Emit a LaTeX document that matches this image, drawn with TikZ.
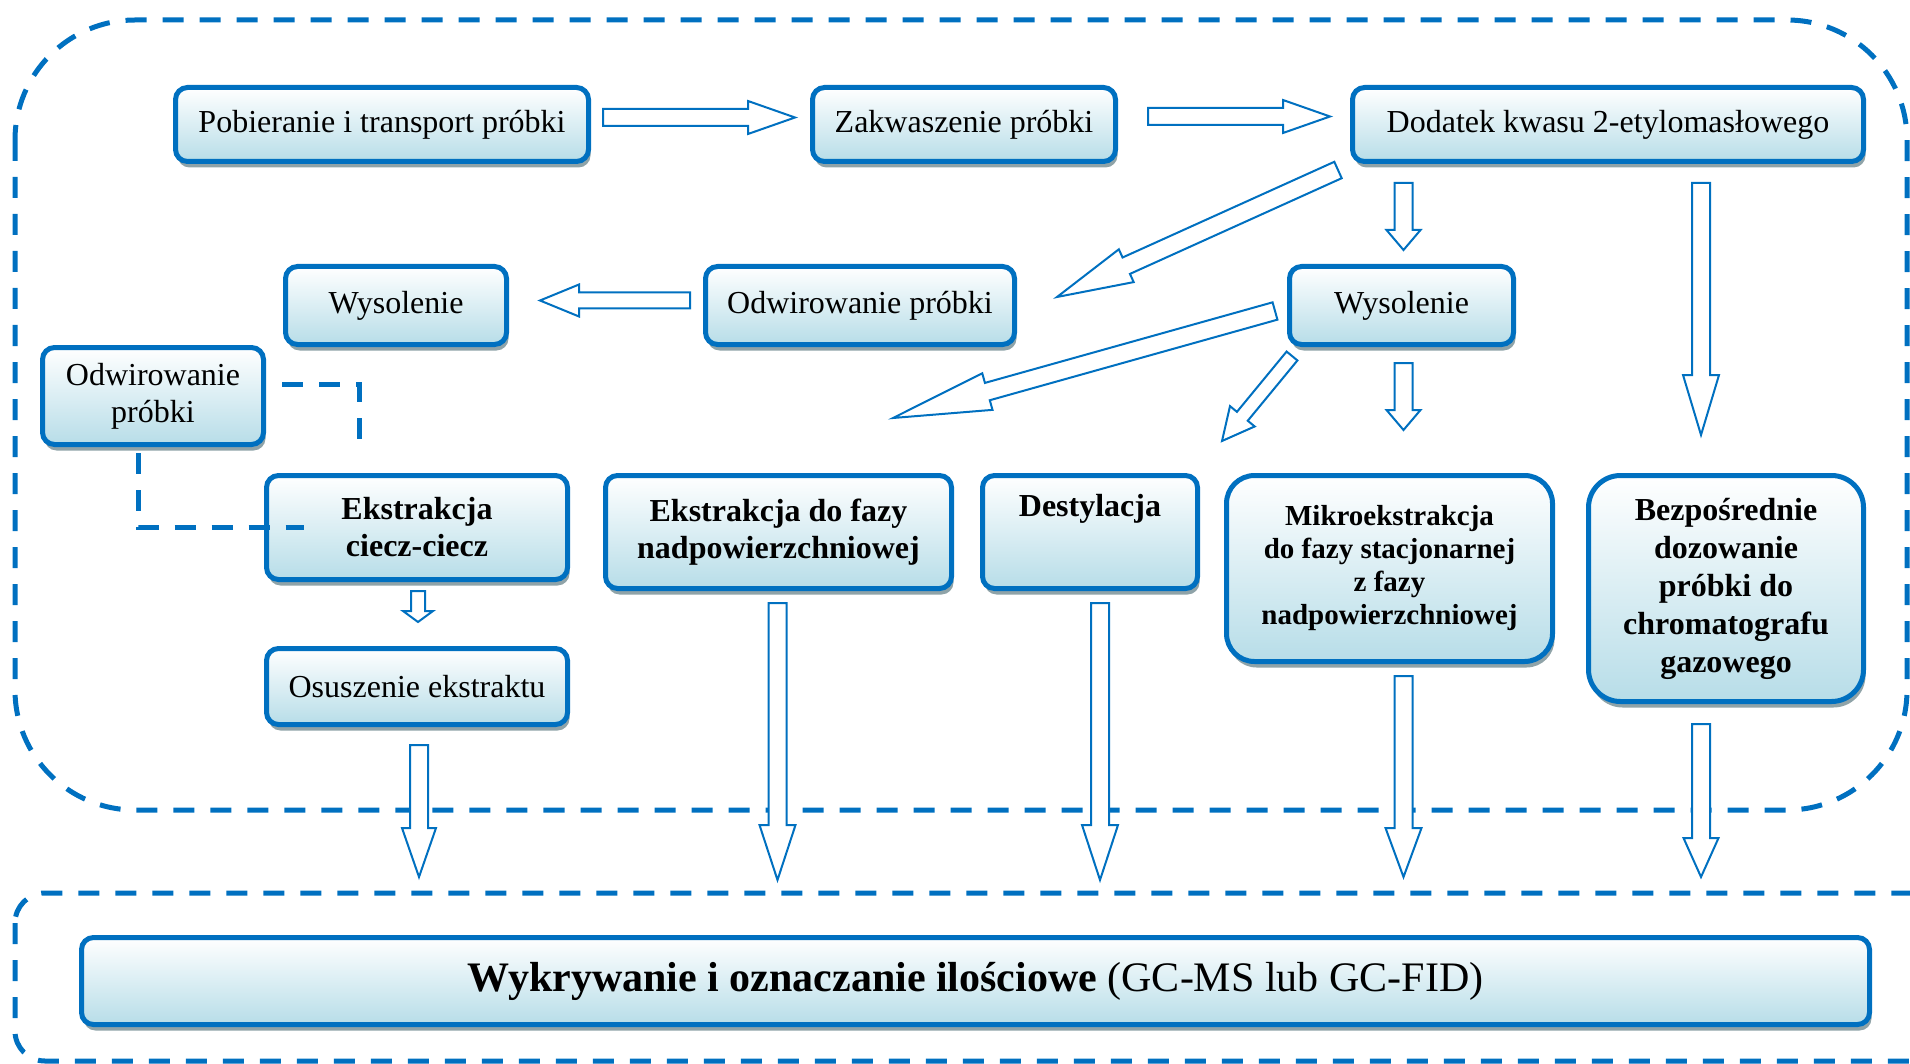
\documentclass[tikz,border=0pt]{standalone}
\usepackage{fontspec}
\setmainfont{Liberation Serif}
\usetikzlibrary{calc,shadows}
\definecolor{frameblue}{HTML}{0070C0}
\definecolor{boxblue}{HTML}{B7DDE8}
\definecolor{shadowgray}{HTML}{8FA3A8}

\tikzset{
  box/.style={draw=frameblue, line width=5pt, rounded corners=12pt, top color=white, bottom color=boxblue,
    drop shadow={shadow xshift=2pt, shadow yshift=-6pt, fill=shadowgray, opacity=1},
    align=center, inner sep=0pt, font=\fontsize{32}{37}\selectfont},
  boldbox/.style={box, font=\fontsize{32}{37}\selectfont\bfseries},
  barrow/.style={draw=frameblue, line width=2pt, fill=white, line join=miter},
  dashline/.style={draw=frameblue, line width=5pt, dash pattern=on 21pt off 16pt},
}

% tail, tip, half shaft, half head, head length
\newcommand{\blockarrow}[5]{%
  \draw[barrow] ($(#1)!#3!90:(#2)$) -- ($(#2)!#5!(#1)!#3!90:(#2)$) -- ($(#2)!#5!(#1)!#4!90:(#2)$)
    -- (#2) -- ($(#2)!#5!(#1)!#4!-90:(#2)$) -- ($(#2)!#5!(#1)!#3!-90:(#2)$) -- ($(#1)!#3!-90:(#2)$) -- cycle;}

\begin{document}
\begin{tikzpicture}[x=1pt, y=-1pt]
  \clip (0,0) rectangle (1910,1064);
  \draw[dashline, rounded corners=120pt] (15,20) rectangle (1907,810);
  \draw[dashline, rounded corners=30pt] (15,893) rectangle (1940,1061);

  \node[box, minimum width=413pt, minimum height=74pt] (pob) at (382,124.5) {Pobieranie i transport próbki};
  \node[box, minimum width=303pt, minimum height=74pt] (zak) at (964,124.5) {Zakwaszenie próbki};
  \node[box, minimum width=511pt, minimum height=74pt] (dod) at (1608,124.5) {Dodatek kwasu 2-etylomasłowego};

  \node[box, minimum width=221pt, minimum height=78pt] (wysL) at (396,305.5) {Wysolenie};
  \node[box, minimum width=309pt, minimum height=78pt] (odwM) at (860,305.5) {Odwirowanie próbki};
  \node[box, minimum width=224pt, minimum height=78pt] (wysR) at (1401.5,305.5) {Wysolenie};
  \node[box, minimum width=221pt, minimum height=97pt] (odwL) at (153,396) {Odwirowanie\\próbki};

  \node[boldbox, minimum width=301pt, minimum height=104pt] (ekc) at (417,527.5) {Ekstrakcja\\ciecz-ciecz};
  \node[boldbox, minimum width=346pt, minimum height=113pt] (ekf) at (778.5,532) {Ekstrakcja do fazy\\nadpowierzchniowej};
  \node[boldbox, minimum width=215pt, minimum height=113pt, text height=41pt, text depth=72pt] (des) at (1090,532) {Destylacja};
  \node[boldbox, rounded corners=28pt, minimum width=326pt, minimum height=186pt,
    font=\fontsize{29}{33}\selectfont\bfseries] (mik) at (1389.5,568.5)
    {Mikroekstrakcja\\do fazy stacjonarnej\\z fazy\\nadpowierzchniowej};
  \node[boldbox, rounded corners=32pt, minimum width=275pt, minimum height=226pt,
    font=\fontsize{32}{38}\selectfont\bfseries] (bez) at (1726,588.5)
    {Bezpośrednie\\dozowanie\\próbki do\\chromatografu\\gazowego};
  \node[box, minimum width=301pt, minimum height=76pt] (osu) at (417,686.5) {Osuszenie ekstraktu};

  \node[box, minimum width=1788pt, minimum height=87pt, font=\fontsize{42}{48}\selectfont] (wyk) at (975.5,981)
    {\textbf{Wykrywanie i oznaczanie ilościowe} (GC-MS lub GC-FID)};

  \draw[dashline] ($(odwL.east)+(16,-12)$) -| ($(ekc.north west)+(95,-32)$);
  \draw[dashline] ($(odwL.south)+(-15,6)$) |- ($(ekc.west)+(40,0)$);

  \coordinate (a1t) at ($(pob.east)+(12,-7)$);
  \coordinate (a1h) at ($(zak.west)+(-15,-7)$);
  \coordinate (a2t) at ($(zak.east)+(30,-8)$);
  \coordinate (a2h) at ($(dod.west)+(-20,-8)$);
  \coordinate (a3t) at ($(dod.south west)+(-12,6)$);
  \coordinate (a3h) at ($(odwM.east)+(40,-8.5)$);
  \coordinate (a4t) at ($(odwM.west)+(-13,-5)$);
  \coordinate (a4h) at ($(wysL.east)+(31,-5)$);
  \coordinate (a5t) at ($(wysR.north)+(2,-81)$);
  \coordinate (a5h) at ($(wysR.north)+(2,-14)$);
  \coordinate (a6t) at ($(bez.north)+(-25,-290)$);
  \coordinate (a6h) at ($(bez.north)+(-25,-38)$);
  \coordinate (a7t) at ($(wysR.west)+(-12,5.5)$);
  \coordinate (a7h) at ($(ekf.north)+(114.5,-55)$);
  \coordinate (a8t) at ($(wysR.south west)+(5,9)$);
  \coordinate (a8h) at ($(des.north east)+(22,-32)$);
  \coordinate (a9t) at ($(wysR.south)+(2,16)$);
  \coordinate (a9h) at ($(wysR.south)+(2,83)$);
  \coordinate (a10t) at ($(ekc.south)+(1,9)$);
  \coordinate (a10h) at ($(ekc.south)+(1,40)$);
  \coordinate (a11t) at ($(osu.south)+(2,18)$);
  \coordinate (a11h) at ($(osu.south)+(2,150)$);
  \coordinate (a12t) at ($(ekf.south)+(-1,12)$);
  \coordinate (a12h) at ($(ekf.south)+(-1,289)$);
  \coordinate (a13t) at ($(des.south)+(10,12)$);
  \coordinate (a13h) at ($(des.south)+(10,289)$);
  \coordinate (a14t) at ($(mik.south)+(14,12)$);
  \coordinate (a14h) at ($(mik.south)+(14,213)$);
  \coordinate (a15t) at ($(bez.south)+(-25,20)$);
  \coordinate (a15h) at ($(bez.south)+(-25,173)$);

  \blockarrow{a1t}{a1h}{8.5pt}{16.5pt}{47pt}
  \blockarrow{a2t}{a2h}{8.5pt}{16.5pt}{47pt}
  \blockarrow{a3t}{a3h}{9pt}{18pt}{76pt}
  \blockarrow{a4t}{a4h}{8pt}{16pt}{39pt}
  \blockarrow{a5t}{a5h}{9pt}{17pt}{20pt}
  \blockarrow{a6t}{a6h}{9pt}{18pt}{60pt}
  \blockarrow{a7t}{a7h}{9pt}{19pt}{98pt}
  \blockarrow{a8t}{a8h}{7pt}{16pt}{32pt}
  \blockarrow{a9t}{a9h}{9pt}{17pt}{20pt}
  \blockarrow{a10t}{a10h}{7pt}{15pt}{11pt}
  \blockarrow{a11t}{a11h}{9pt}{17pt}{49pt}
  \blockarrow{a12t}{a12h}{9pt}{18pt}{55pt}
  \blockarrow{a13t}{a13h}{9pt}{18pt}{55pt}
  \blockarrow{a14t}{a14h}{9pt}{18pt}{49pt}
  \blockarrow{a15t}{a15h}{9pt}{17.5pt}{39pt}
\end{tikzpicture}
\end{document}
